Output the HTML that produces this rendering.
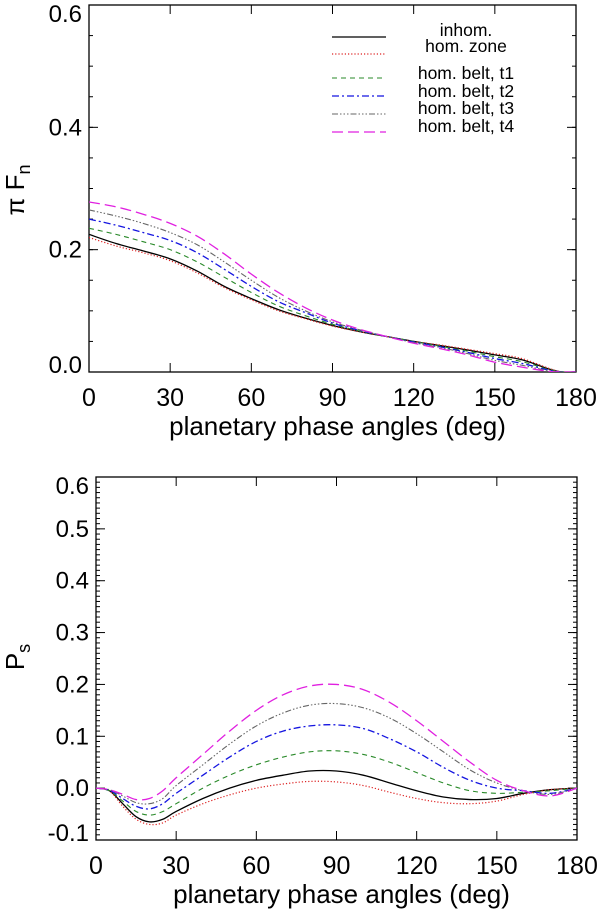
<!DOCTYPE html>
<html><head><meta charset="utf-8"><style>
body{margin:0;background:#fff;width:600px;height:912px;overflow:hidden}
svg{font-family:"Liberation Sans",sans-serif}
</style></head><body>
<svg id="c" width="600" height="912"></svg>
<script>
const anglesTop=[0,10,20,30,40,50,60,70,80,90,100,110,120,130,140,150,160,170,175,180];
const fInhom=[0.225,0.21,0.198,0.185,0.165,0.14,0.12,0.102,0.088,0.076,0.066,0.058,0.05,0.043,0.036,0.028,0.02,0.005,0.0,0.0];
const fZone=[0.22,0.206,0.195,0.182,0.162,0.138,0.118,0.1,0.087,0.075,0.066,0.058,0.05,0.044,0.037,0.03,0.022,0.006,0.0,0.0];
const fT1=[0.235,0.225,0.213,0.2,0.18,0.155,0.13,0.108,0.092,0.078,0.067,0.058,0.05,0.042,0.034,0.025,0.017,0.004,0.0,0.0];
const fT2=[0.25,0.24,0.228,0.215,0.195,0.168,0.14,0.115,0.097,0.08,0.068,0.058,0.049,0.041,0.032,0.022,0.014,0.003,0.0,0.0];
const fT3=[0.265,0.255,0.243,0.228,0.208,0.18,0.15,0.122,0.1,0.082,0.069,0.058,0.048,0.04,0.03,0.019,0.011,0.002,0.0,0.0];
const fT4=[0.278,0.27,0.258,0.243,0.222,0.193,0.16,0.13,0.105,0.085,0.07,0.058,0.047,0.038,0.028,0.016,0.008,0.001,0.0,0.0];
const anglesBot=[0,5,10,15,20,25,30,40,50,60,70,80,90,100,110,120,130,140,150,160,170,180];
const pInhom=[0,-0.005,-0.03,-0.055,-0.065,-0.06,-0.045,-0.02,0,0.015,0.025,0.033,0.033,0.025,0.01,-0.005,-0.017,-0.022,-0.02,-0.01,-0.003,0];
const pZone=[0,-0.005,-0.035,-0.06,-0.07,-0.067,-0.052,-0.03,-0.013,0,0.008,0.013,0.012,0.005,-0.008,-0.02,-0.028,-0.03,-0.025,-0.012,-0.003,0];
const pT1=[0,-0.005,-0.025,-0.045,-0.052,-0.045,-0.03,0,0.025,0.045,0.06,0.07,0.072,0.065,0.05,0.03,0.01,-0.005,-0.01,-0.008,-0.005,0];
const pT2=[0,-0.004,-0.02,-0.035,-0.04,-0.03,-0.01,0.025,0.06,0.09,0.11,0.12,0.122,0.115,0.095,0.07,0.04,0.015,0,-0.005,-0.01,0];
const pT3=[0,-0.003,-0.015,-0.028,-0.03,-0.02,0.005,0.045,0.085,0.12,0.145,0.16,0.163,0.155,0.135,0.105,0.07,0.035,0.01,-0.005,-0.012,0];
const pT4=[0,-0.003,-0.012,-0.022,-0.02,-0.005,0.02,0.065,0.11,0.15,0.18,0.197,0.2,0.19,0.165,0.13,0.09,0.05,0.015,-0.005,-0.015,0];
const seriesNames=["inhom.","hom. zone","hom. belt, t1","hom. belt, t2","hom. belt, t3","hom. belt, t4"];
const xTicks=[0,30,60,90,120,150,180];
const yTicksTop=["0.0","0.2","0.4","0.6"];
const yTicksBot=["-0.1","0.0","0.1","0.2","0.3","0.4","0.5","0.6"];

const styles=[
 {c:"#000",d:"",w:1.3},{c:"#d22",d:"1.2,2",w:1.2},{c:"#2a8a2a",d:"5,4",w:1.1},
 {c:"#1515e0",d:"7,3,2,3",w:1.3},{c:"#666",d:"6,2,1.5,2,1.5,2,1.5,2",w:1.1},{c:"#e020e0",d:"11,5",w:1.3}];
const NS="http://www.w3.org/2000/svg";
const svg=document.getElementById("c");
function el(t,a,p){const e=document.createElementNS(NS,t);for(const k in a)e.setAttribute(k,a[k]);(p||svg).appendChild(e);return e;}
function spline(pts){let d="M"+pts[0][0]+","+pts[0][1];
 for(let i=0;i<pts.length-1;i++){const p0=pts[Math.max(0,i-1)],p1=pts[i],p2=pts[i+1],p3=pts[Math.min(pts.length-1,i+2)];
  d+=" C"+(p1[0]+(p2[0]-p0[0])/6)+","+(p1[1]+(p2[1]-p0[1])/6)+" "+(p2[0]-(p3[0]-p1[0])/6)+","+(p2[1]-(p3[1]-p1[1])/6)+" "+p2[0]+","+p2[1];}
 return d;}
function panel(o){
 const g=el("g",{});
 const X=v=>o.x0+(v-0)/180*(o.x1-o.x0);
 const Y=v=>o.yb+(v-o.ymin)/(o.ymax-o.ymin)*(o.yt-o.yb);
 const fr=el("rect",{x:o.x0,y:o.yt,width:o.x1-o.x0,height:o.yb-o.yt,fill:"none",stroke:"#000","stroke-width":1.3},g);
 
 for(let v=o.ymin;v<=o.ymax+1e-9;v+=o.minor){const y=Y(v);
  el("line",{x1:o.x0,x2:o.x0+4,y1:y,y2:y,stroke:"#000","stroke-width":1},g);
  el("line",{x1:o.x1,x2:o.x1-4,y1:y,y2:y,stroke:"#000","stroke-width":1},g);}
 o.yt_.forEach(s=>{const v=parseFloat(s),y=Y(v);
  el("line",{x1:o.x0,x2:o.x0+9,y1:y,y2:y,stroke:"#000","stroke-width":1},g);
  el("line",{x1:o.x1,x2:o.x1-9,y1:y,y2:y,stroke:"#000","stroke-width":1},g);
  const t=el("text",{x:o.x0-7,y:Math.min(Math.max(y,o.yt+9),o.yb-7)+8,"text-anchor":"end","font-size":24},g);t.textContent=s;
  });
 xTicks.forEach(v=>{const x=X(v);
  el("line",{x1:x,x2:x,y1:o.yb,y2:o.yb-9,stroke:"#000","stroke-width":1},g);
  el("line",{x1:x,x2:x,y1:o.yt,y2:o.yt+9,stroke:"#000","stroke-width":1},g);
  const t=el("text",{x:x,y:o.yb+34,"text-anchor":"middle","font-size":25},g);t.textContent=v;
  });
 const xl=el("text",{x:(o.x0+o.x1)/2+5,y:o.yb+63,"text-anchor":"middle","font-size":26},g);xl.textContent="planetary phase angles (deg)";
 
 const yl=el("text",{x:0,y:0,"font-size":26,transform:"translate("+o.ylx+","+o.yly+") rotate(-90)","text-anchor":"middle"},g);
 yl.innerHTML=o.ylab;
 const cp=el("clipPath",{id:o.name+"-clip"},g);el("rect",{x:o.x0,y:o.yt,width:o.x1-o.x0,height:o.yb-o.yt},cp);
 o.data.forEach((arr,i)=>{const pts=arr.map((v,j)=>[X(o.xs[j]),Y(v)]);
  const p=el("path",{d:spline(pts),fill:"none",stroke:styles[i].c,"stroke-width":styles[i].w,"stroke-dasharray":styles[i].d,"clip-path":"url(#"+o.name+"-clip)"},g);
  });
}
panel({name:"flux-panel",x0:89,x1:576,yt:5,yb:372,ymin:0,ymax:0.6,minor:0.05,yt_:yTicksTop,
 ylx:24,yly:190,ylab:'π F<tspan font-size="18" dy="6">n</tspan>',xs:anglesTop,data:[fInhom,fZone,fT1,fT2,fT3,fT4]});
panel({name:"polarization-panel",x0:96,x1:577,yt:477,yb:840,ymin:-0.1,ymax:0.6,minor:0.01,yt_:yTicksBot,
 ylx:24,yly:657,ylab:'P<tspan font-size="18" dy="6">s</tspan>',xs:anglesBot,data:[pInhom,pZone,pT1,pT2,pT3,pT4]});
const lg=el("g",{});
const ly=[37,54,78,96,114,132],ty=[36,52,79,97,114,132];
seriesNames.forEach((n,i)=>{
 const l=el("line",{x1:332,x2:386,y1:ly[i],y2:ly[i],stroke:styles[i].c,"stroke-width":styles[i].w,"stroke-dasharray":styles[i].d},lg);
 
 const t=el("text",{x:466,y:ty[i],"text-anchor":"middle","font-size":17.5},lg);t.textContent=n;
 });
</script>
</body></html>
